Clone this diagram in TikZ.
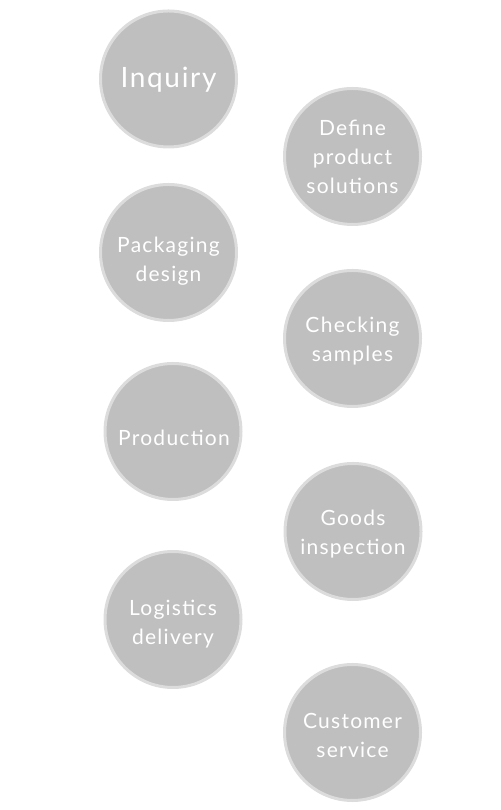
\documentclass[tikz,border=0pt]{standalone}
\usepackage{fontspec}
\setmainfont{Lato}
\newfontfamily\stagefont[LetterSpace=6]{Lato}
\definecolor{stageFill}{HTML}{BFBFBF}
\definecolor{stageRim}{HTML}{DCDCDC}
\tikzset{
    stage/.style={circle, fill=stageFill, draw=stageRim, line width=3pt,
        minimum size=136pt, inner sep=0pt},
    stagetext/.style={anchor=base, inner sep=0pt, text=white, align=center,
        font=\stagefont\fontsize{21}{29}\selectfont}
}
\begin{document}
\begin{tikzpicture}[x=1pt, y=1pt]
    \useasboundingbox (0,0) rectangle (500,810);
    % circles
    \node[stage] (inquiry) at (168.5,731) {};
    \node[stage] (define) at (352.5,653.5) {};
    \node[stage] (packaging) at (168.5,557.5) {};
    \node[stage] (checking) at (352.5,471.5) {};
    \node[stage] (production) at (173,378.5) {};
    \node[stage] (goods) at (353,278.5) {};
    \node[stage] (logistics) at (173,190.5) {};
    \node[stage] (customer) at (352.5,77.5) {};
    % labels, placed by the baseline of their last line
    \node[stagetext, font=\stagefont\fontsize{28}{32}\selectfont] (inquiry-text) at ([yshift=-8.3pt]inquiry.center) {Inquiry};
    \node[stagetext] (define-text) at ([yshift=-37.5pt]define.center) {Define\\product\\solutions};
    \node[stagetext] (packaging-text) at ([yshift=-29.5pt]packaging.center) {Packaging\\design};
    \node[stagetext] (checking-text) at ([yshift=-23.5pt]checking.center) {Checking\\samples};
    \node[stagetext] (production-text) at ([xshift=1pt, yshift=-14.5pt]production.center) {Production};
    \node[stagetext] (goods-text) at ([yshift=-23.5pt]goods.center) {Goods\\inspection};
    \node[stagetext] (logistics-text) at ([yshift=-25pt]logistics.center) {Logistics\\delivery};
    \node[stagetext] (customer-text) at ([yshift=-25.5pt]customer.center) {Customer\\service};
\end{tikzpicture}
\end{document}
